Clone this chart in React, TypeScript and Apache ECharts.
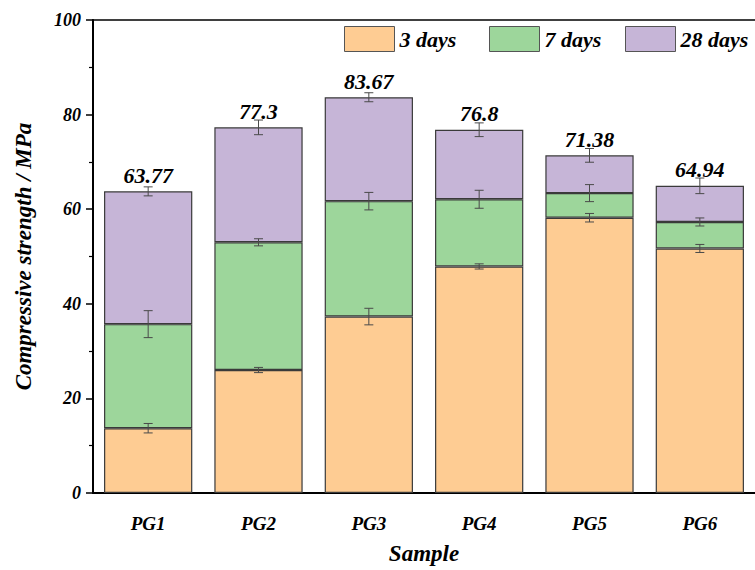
import React, { useEffect, useRef } from "react";
import * as echarts from "echarts";

const categories = ["PG1", "PG2", "PG3", "PG4", "PG5", "PG6"];
const strength3 = [13.7, 26.0, 37.3, 47.9, 58.2, 51.7];
const strength7 = [35.7, 53.0, 61.7, 62.1, 63.4, 57.3];
const strength28 = [63.77, 77.3, 83.67, 76.8, 71.38, 64.94];
const err3 = [1.0, 0.55, 1.75, 0.55, 0.9, 0.85];
const err7 = [2.85, 0.75, 1.85, 1.9, 1.8, 0.85];
const err28 = [0.95, 1.55, 0.95, 1.45, 1.45, 1.65];
const seriesNames = ["3 days", "7 days", "28 days"];
const colors = ["#FECC93", "#9DD69B", "#C6B5D7"];

const FONT = "'Liberation Serif', 'Times New Roman', serif";

export default function App() {
  const ref = useRef<HTMLDivElement>(null);
  useEffect(() => {
    if (!ref.current) return;
    const chart = echarts.init(ref.current, undefined, { renderer: "svg" });
    const inc7 = strength7.map((v, i) => +(v - strength3[i]).toFixed(3));
    const inc28 = strength28.map((v, i) => +(v - strength7[i]).toFixed(3));
    const errData: number[][] = [];
    categories.forEach((_, i) => {
      errData.push([i, strength3[i], err3[i]]);
      errData.push([i, strength7[i], err7[i]]);
      errData.push([i, strength28[i], err28[i]]);
    });
    const txt = { fontFamily: FONT, fontWeight: "bold" as const, fontStyle: "italic" as const, color: "#000" };
    const barBase = (name: string, data: number[], color: string) => ({
      name,
      type: "bar",
      stack: "total",
      data,
      barCategoryGap: "20%",
      itemStyle: { color, borderColor: "#3a3a3a", borderWidth: 1.2 },
    });
    const legendAt = (name: string, left: number, color: string) => ({
      data: [name],
      left,
      top: 26,
      padding: 0,
      itemWidth: 50,
      itemHeight: 25,
      itemGap: 5,
      icon: "rect",
      selectedMode: false,
      itemStyle: { color, borderColor: "#555", borderWidth: 1 },
      textStyle: { ...txt, fontSize: 22, padding: [0, 0, 5, 0] },
    });
    chart.setOption({
      animation: false,
      backgroundColor: "#fff",
      legend: [
        legendAt(seriesNames[0], 344, colors[0]),
        legendAt(seriesNames[1], 489, colors[1]),
        legendAt(seriesNames[2], 625, colors[2]),
      ],
      grid: { left: 93, top: 20, width: 665, height: 478, containLabel: false },
      xAxis: [
        {
          type: "category",
          data: categories,
          name: "Sample",
          nameLocation: "middle",
          nameGap: 49,
          nameTextStyle: { ...txt, fontSize: 23 },
          axisLine: { lineStyle: { color: "#000", width: 2 } },
          axisTick: { alignWithLabel: true, length: 7, lineStyle: { color: "#000", width: 1.5 } },
          axisLabel: { ...txt, fontSize: 19, margin: 21 },
        },
        {
          type: "category",
          data: categories,
          position: "top",
          axisLine: { show: true, lineStyle: { color: "#000", width: 1.5 } },
          axisTick: { show: false },
          axisLabel: { show: false },
        },
      ],
      yAxis: {
        type: "value",
        min: 0,
        max: 100,
        interval: 20,
        name: "Compressive strength / MPa",
        nameLocation: "middle",
        nameGap: 58,
        nameTextStyle: { ...txt, fontSize: 23 },
        axisLine: { show: true, lineStyle: { color: "#000", width: 2 } },
        axisTick: { show: true, length: 7, lineStyle: { color: "#000", width: 1.5 } },
        minorTick: { show: true, splitNumber: 2, length: 4, lineStyle: { color: "#000", width: 1.2 } },
        splitLine: { show: false },
        axisLabel: { ...txt, fontSize: 18, margin: 12 },
      },
      series: [
        barBase(seriesNames[0], strength3, colors[0]),
        barBase(seriesNames[1], inc7, colors[1]),
        {
          ...barBase(seriesNames[2], inc28, colors[2]),
          label: {
            show: true,
            position: "top",
            distance: 5,
            ...txt,
            fontSize: 22,
            formatter: (p: any) => String(strength28[p.dataIndex]),
          },
        },
        {
          type: "custom",
          name: "err",
          data: errData,
          z: 10,
          encode: { x: 0, y: 1 },
          renderItem: (params: any, api: any) => {
            const x = api.value(0);
            const y = api.value(1);
            const e = api.value(2);
            const top = api.coord([x, y + e]);
            const bot = api.coord([x, y - e]);
            const w = 4.5;
            const style = { stroke: "#4a4a4a", lineWidth: 1 };
            return {
              type: "group",
              children: [
                { type: "line", shape: { x1: top[0], y1: top[1], x2: bot[0], y2: bot[1] }, style },
                { type: "line", shape: { x1: top[0] - w, y1: top[1], x2: top[0] + w, y2: top[1] }, style },
                { type: "line", shape: { x1: bot[0] - w, y1: bot[1], x2: bot[0] + w, y2: bot[1] }, style },
              ],
            };
          },
        },
      ],
    });
    return () => chart.dispose();
  }, []);
  return (
    <div
      ref={ref}
      style={{ position: "fixed", left: 0, top: 0, width: 755, height: 570, background: "#fff" }}
    />
  );
}
